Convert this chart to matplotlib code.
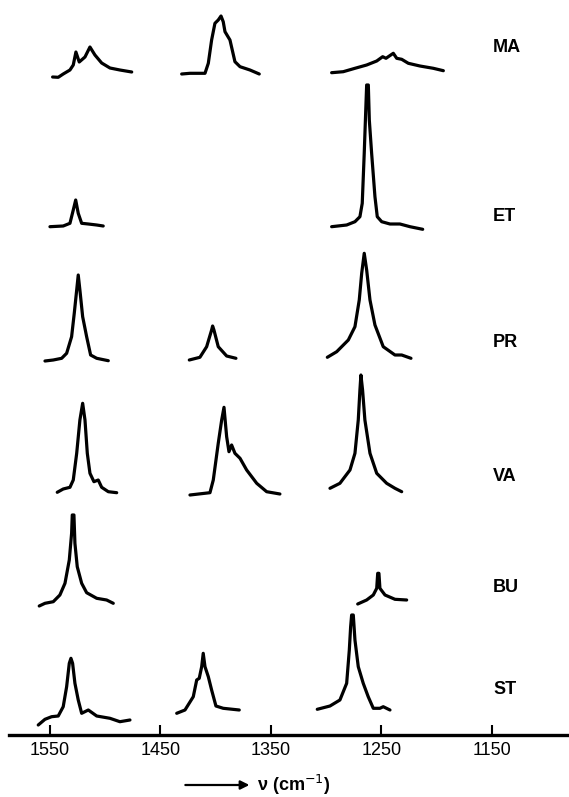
import matplotlib.pyplot as plt

# Raman band profiles
# wavenumbers in cm-1, intensities in arbitrary units (height above each row's baseline)

# MA
ma_a_nu = [1547.6, 1542.5, 1538.0, 1531.9, 1528.9, 1526.5, 1523.5, 1518.3, 1513.8, 1509.3, 1503.2, 1495.7, 1486.7, 1476.0]
ma_a_int = [1, 0.7, 4, 8, 13, 26, 16, 21, 31, 23, 15, 10, 8, 6]
ma_b_nu = [1430.8, 1423.3, 1409.7, 1406.7, 1403.7, 1400.7, 1397.7, 1395.2, 1393.2, 1391.6, 1387.1, 1382.6, 1378.0, 1369.0, 1360.6]
ma_b_int = [4, 4.7, 4.7, 14.7, 38, 54.7, 58, 62, 56.3, 46.3, 38, 16.3, 11.3, 8, 4]
ma_c_nu = [1295.1, 1284.6, 1274.0, 1263.4, 1254.3, 1248.9, 1245.9, 1242.9, 1239.3, 1236.2, 1231.7, 1225.7, 1215.2, 1203.1, 1194.0]
ma_c_int = [5.3, 6.3, 9.7, 13, 17, 21.3, 19.7, 22, 24.7, 19.7, 18.7, 14.7, 12, 9.7, 7.3]

# ET
et_a_nu = [1550.0, 1538.0, 1531.9, 1528.9, 1526.7, 1524.4, 1521.3, 1515.3, 1507.7, 1501.8]
et_a_int = [1.3, 2, 4.7, 18, 28, 14.7, 4.7, 4, 3, 2]
et_c_nu = [1295.1, 1281.5, 1274.0, 1269.5, 1267.4, 1265.6, 1264.0, 1263.4, 1261.9, 1261.0, 1258.9, 1255.9, 1253.8, 1249.8, 1242.3, 1233.3, 1224.2, 1212.7]
et_c_int = [1.3, 3, 6.3, 11.3, 24.7, 74.7, 124.7, 143, 143, 108, 74.7, 31.3, 11.3, 6.3, 4, 4, 1.3, -1.3]

# PR
pr_a_nu = [1554.5, 1547.0, 1539.4, 1534.9, 1530.4, 1528.0, 1525.8, 1524.4, 1522.9, 1520.4, 1516.8, 1513.2, 1507.7, 1497.2]
pr_a_int = [1, 2, 3.7, 8.7, 25.3, 48.7, 72, 87, 72, 45.3, 25.3, 7, 3.7, 1.3]
pr_b_nu = [1423.9, 1414.3, 1408.2, 1403.7, 1402.8, 1401.6, 1397.7, 1390.1, 1381.7]
pr_b_int = [2, 4.7, 15.3, 32, 36, 32, 15.3, 6, 3.7]
pr_c_nu = [1299.0, 1290.5, 1280.0, 1274.0, 1270.1, 1267.9, 1265.6, 1263.4, 1260.4, 1255.9, 1248.4, 1237.8, 1231.7, 1223.3]
pr_c_int = [4.7, 10.3, 22, 35.3, 62, 88.7, 108.7, 92, 62, 37, 15.3, 7, 7, 3.7]

# VA
va_a_nu = [1543.4, 1538.0, 1531.9, 1528.9, 1525.8, 1522.9, 1520.4, 1518.3, 1516.2, 1513.8, 1510.2, 1506.3, 1503.2, 1497.2, 1489.6]
va_a_int = [1.7, 5, 6.7, 14, 40.7, 74, 90.7, 74, 40.7, 20.7, 12.3, 14, 6.7, 2.3, 1.3]
va_b_nu = [1423.3, 1405.2, 1402.2, 1397.7, 1394.6, 1392.5, 1390.1, 1388.0, 1385.6, 1382.6, 1378.0, 1372.0, 1362.9, 1353.9, 1341.9]
va_b_int = [-1, 1.3, 14, 50.7, 74, 86.7, 57.3, 42.3, 49, 40.7, 35.7, 24, 10.7, 2.3, 0]
va_c_nu = [1296.6, 1287.6, 1278.5, 1274.0, 1271.0, 1269.5, 1268.6, 1267.1, 1265.0, 1260.4, 1254.3, 1245.3, 1237.8, 1231.7]
va_c_int = [5.7, 10.7, 24, 40.7, 74, 104, 119, 104, 74, 40.7, 20.7, 10.7, 5.7, 2.3]

# BU
bu_a_nu = [1559.7, 1554.5, 1547.0, 1541.0, 1536.4, 1532.5, 1530.4, 1529.8, 1528.3, 1527.4, 1525.3, 1521.3, 1516.8, 1507.7, 1498.7, 1492.7]
bu_a_int = [0, 2.7, 4.3, 11, 22.7, 46, 72.7, 91, 91, 62.7, 39.3, 22.7, 13.3, 7.7, 6, 2.7]
bu_c_nu = [1271.5, 1263.4, 1257.4, 1254.3, 1253.4, 1252.3, 1251.4, 1246.8, 1237.8, 1227.2]
bu_c_int = [2, 6, 11, 17.7, 32.7, 32.7, 17.7, 11, 6.7, 6]

# ST
st_a_nu = [1560.6, 1554.5, 1548.5, 1542.5, 1538.0, 1534.9, 1532.5, 1531.0, 1529.5, 1527.4, 1524.4, 1521.3, 1515.3, 1507.7, 1495.7, 1486.7, 1477.6]
st_a_int = [0, 5.7, 8.3, 9, 18.3, 38.3, 61.7, 66.7, 61.7, 41.7, 25, 11.7, 15, 9, 6.7, 3.3, 5]
st_b_nu = [1435.3, 1427.8, 1420.3, 1417.2, 1414.9, 1412.7, 1411.3, 1409.7, 1406.7, 1403.7, 1399.8, 1393.2, 1378.7]
st_b_int = [11.7, 15, 28.3, 45, 46.7, 58.3, 71.7, 58.3, 48.3, 35, 19, 16.7, 15]
st_c_nu = [1308.1, 1296.6, 1287.6, 1281.5, 1279.1, 1277.9, 1277.0, 1275.5, 1274.0, 1271.0, 1266.5, 1262.0, 1257.4, 1251.4, 1248.4, 1242.3]
st_c_int = [15.7, 19, 25, 41.7, 75, 98.3, 110, 110, 85, 58.3, 41.7, 28.3, 16.7, 16.7, 18.3, 15]

samples = ['MA', 'ET', 'PR', 'VA', 'BU', 'ST']
traces = {
    'MA': [(ma_a_nu, ma_a_int), (ma_b_nu, ma_b_int), (ma_c_nu, ma_c_int)],
    'ET': [(et_a_nu, et_a_int), (et_c_nu, et_c_int)],
    'PR': [(pr_a_nu, pr_a_int), (pr_b_nu, pr_b_int), (pr_c_nu, pr_c_int)],
    'VA': [(va_a_nu, va_a_int), (va_b_nu, va_b_int), (va_c_nu, va_c_int)],
    'BU': [(bu_a_nu, bu_a_int), (bu_c_nu, bu_c_int)],
    'ST': [(st_a_nu, st_a_int), (st_b_nu, st_b_int), (st_c_nu, st_c_int)],
}
xticks = [1550, 1450, 1350, 1250, 1150]

# layout: vertical offset of each row and of its label
baselines = {'MA': 719, 'ET': 569, 'PR': 435, 'VA': 303, 'BU': 191, 'ST': 72}
label_y = {'MA': 750, 'ET': 581, 'PR': 455, 'VA': 321, 'BU': 210, 'ST': 108}

plt.rcParams['font.family'] = ['Liberation Sans', 'DejaVu Sans']

fig = plt.figure(figsize=(5.69, 7.97), dpi=100)
ax = fig.add_axes([0, 0, 1, 1])
ax.set_xlim(1595.2, 1080.3)
ax.set_ylim(0, 797)

for s in samples:
    for nu, inten in traces[s]:
        ax.plot(nu, [baselines[s] + v for v in inten], color='black', lw=2.3,
                solid_capstyle='round', solid_joinstyle='round')
    ax.text(1149, label_y[s], s, fontsize=13, fontweight='bold', ha='left', va='center')

# wavenumber axis
for side in ['top', 'left', 'right']:
    ax.spines[side].set_visible(False)
ax.spines['bottom'].set_position(('data', 62))
ax.spines['bottom'].set_bounds(1587, 1080.3)
ax.spines['bottom'].set_linewidth(2.4)
ax.set_yticks([])
ax.set_xticks(xticks)
ax.tick_params(axis='x', direction='in', length=7, width=1.5, pad=5, labelsize=13)

# direction arrow and axis label
ax.annotate('', xy=(1367, 12), xytext=(1430, 12),
            arrowprops=dict(arrowstyle='-|>', color='black', lw=1.6, mutation_scale=13))
ax.text(1363, 12, r'ν (cm$^{-1}$)', fontsize=13, fontweight='bold', ha='left', va='center')

fig.savefig('out.png', dpi=100)
